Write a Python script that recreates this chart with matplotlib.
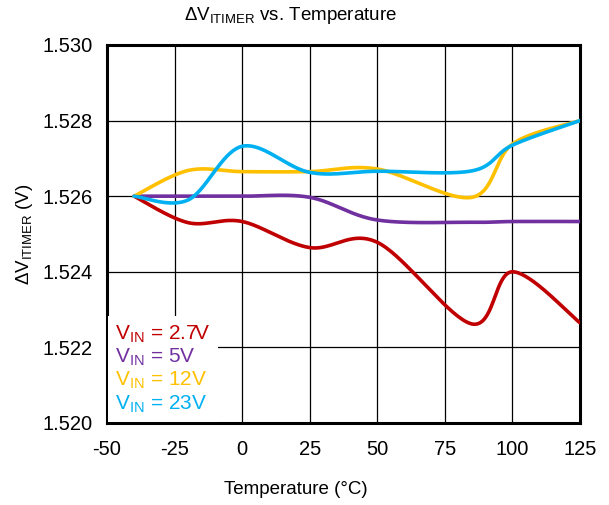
#!/usr/bin/env python3
"""Delta V_ITIMER vs temperature, four input voltages (smoothed lines)."""

import numpy as np
import matplotlib
matplotlib.use("Agg")
import matplotlib.pyplot as plt

plt.rcParams["font.family"] = ["Liberation Sans", "DejaVu Sans"]
plt.rcParams["mathtext.fontset"] = "custom"
plt.rcParams["mathtext.rm"] = "Liberation Sans"
plt.rcParams["mathtext.it"] = "Liberation Sans"
plt.rcParams["axes.unicode_minus"] = False

temps = [-40, -20, 0, 25, 50, 85, 100, 125]
v_2p7 = [1.5260, 1.52530, 1.52533, 1.52464, 1.52478, 1.52262, 1.52400, 1.52265]
v_5 = [1.5260, 1.52600, 1.52600, 1.52597, 1.52537, 1.52531, 1.52533, 1.52533]
v_12 = [1.5260, 1.52668, 1.52665, 1.52665, 1.52672, 1.52597, 1.52738, 1.52800]
v_23 = [1.5260, 1.52590, 1.52732, 1.52663, 1.52666, 1.52667, 1.52735, 1.52800]

labels = ["2.7V", "5V", "12V", "23V"]
colors = ["#C00000", "#7030A0", "#FFC000", "#00B0F0"]

XLIM = (-50, 125)
YLIM = (1.520, 1.530)
ASPECT = 378 / 473  # axes height / width in pixels


def smooth(x, y, n=40):
    # Excel-style smoothed line: cubic Bezier segments with Catmull-Rom control points,
    # computed in axis-fraction space so the shape does not depend on units.
    x = (np.asarray(x, float) - XLIM[0]) / (XLIM[1] - XLIM[0])
    y = (np.asarray(y, float) - YLIM[0]) / (YLIM[1] - YLIM[0]) * ASPECT
    p = np.column_stack([x, y])
    p = np.vstack([p[0], p, p[-1]])
    out = []
    t = np.linspace(0, 1, n)[:, None]
    for i in range(1, len(p) - 2):
        p0, p3 = p[i], p[i + 1]
        c1 = p0 + (p[i + 1] - p[i - 1]) / 6
        c2 = p3 - (p[i + 2] - p[i]) / 6
        seg = ((1 - t) ** 3) * p0 + 3 * ((1 - t) ** 2) * t * c1 + 3 * (1 - t) * t ** 2 * c2 + t ** 3 * p3
        out.append(seg if i == 1 else seg[1:])
    out = np.vstack(out)
    xs = out[:, 0] * (XLIM[1] - XLIM[0]) + XLIM[0]
    ys = out[:, 1] / ASPECT * (YLIM[1] - YLIM[0]) + YLIM[0]
    return xs, ys


fig = plt.figure(figsize=(6.09, 5.05), dpi=100)
ax = fig.add_axes([0.1757, 0.1624, 0.7767, 0.7485])

for vals, lab, c in zip([v_2p7, v_5, v_12, v_23], labels, colors):
    xs, ys = smooth(temps, vals)
    ax.plot(xs, ys, color=c, lw=2.6, solid_capstyle="round",
            label=r"V$_{\mathregular{IN}}$ = " + lab, zorder=3)

ax.set_xlim(*XLIM)
ax.set_ylim(*YLIM)
ax.set_xticks(np.arange(-50, 126, 25))
yt = np.arange(1.520, 1.5301, 0.002)
ax.set_yticks(yt)
ax.set_yticklabels([f"{v:.3f}" for v in yt])
ax.tick_params(axis="x", length=0, labelsize=14.5, pad=12)
ax.tick_params(axis="y", length=0, labelsize=14.5, pad=10)
ax.grid(True, color="black", lw=0.9, zorder=1)
for s in ax.spines.values():
    s.set_linewidth(2.2)

fig.text(291 / 609, 1 - 16 / 505, r"$\Delta$V$_{\mathregular{ITIMER}}$ vs. Temperature",
         fontsize=13.5, ha="center", va="center")
fig.text(296 / 609, 1 - 490 / 505, "Temperature (\u00b0C)", fontsize=13.5,
         ha="center", va="center")
ax.set_ylabel(r"$\Delta$V$_{\mathregular{ITIMER}}$ (V)", fontsize=13.5, labelpad=6)

leg = ax.legend(loc="lower left", handlelength=0, handletextpad=0, frameon=True,
                fontsize=15, labelcolor="linecolor", borderpad=0.35, labelspacing=0.1,
                borderaxespad=0.05, fancybox=False)
leg.get_frame().set_edgecolor("none")
leg.get_frame().set_facecolor("white")
leg.get_frame().set_alpha(1)
for h in leg.legend_handles:
    h.set_visible(False)

fig.savefig("out.png", dpi=100)
